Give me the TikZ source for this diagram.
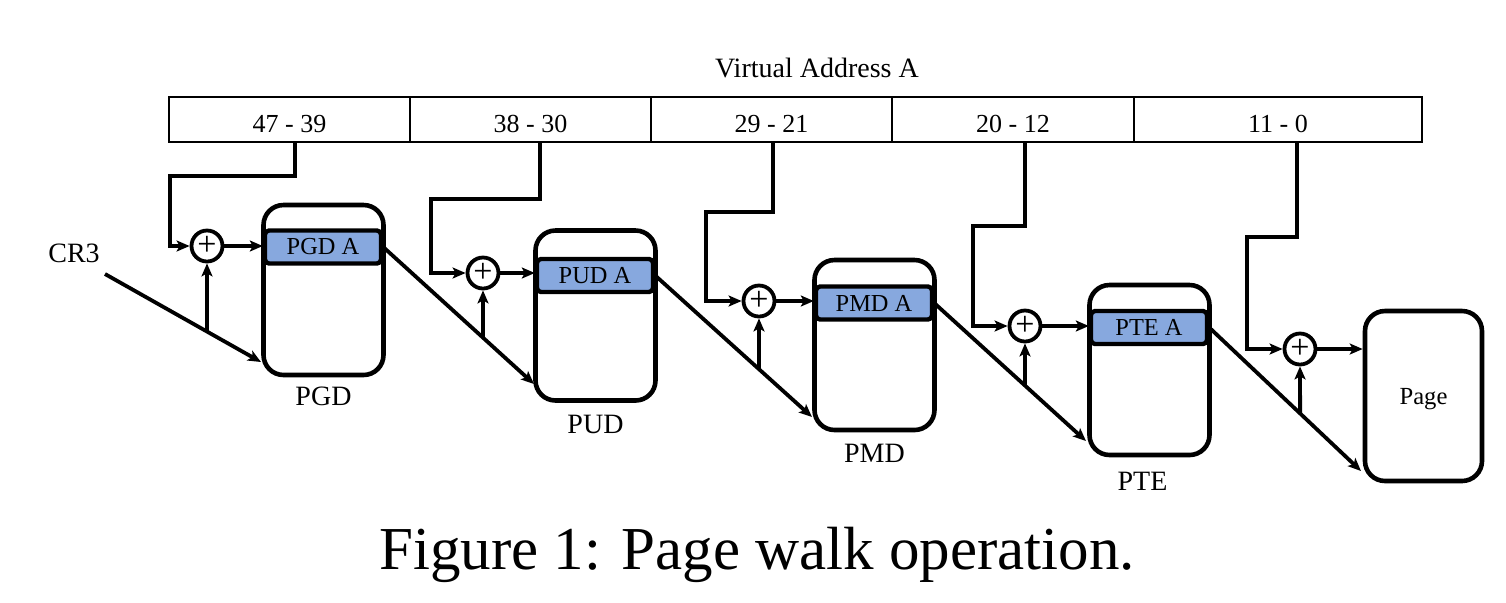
\documentclass[tikz,border=0pt]{standalone}
\usepackage{fontspec}
\setmainfont{Liberation Serif}
\usetikzlibrary{arrows.meta}
\definecolor{bandblue}{RGB}{135,168,222}
\begin{document}
\begin{tikzpicture}[x=0.5pt,y=-0.5pt,
  conn/.style={line width=1.9pt,-{Stealth[length=6.5pt,width=5.5pt,inset=1.5pt]}},
  cell/.style={draw,line width=1.1pt,minimum height=22.5pt,inner sep=0pt,text height=12.5pt,text depth=0pt,font=\fontsize{13}{15}\selectfont},
  table/.style={draw,line width=2.3pt,rounded corners=10pt,minimum width=60pt,minimum height=85pt,inner sep=0pt},
  band/.style={draw,line width=2.2pt,fill=bandblue,rounded corners=2pt,minimum width=58pt,minimum height=16.5pt,inner sep=0pt,font=\fontsize{12.2}{14}\selectfont},
  adder/.style={draw,circle,line width=1.9pt,minimum size=15.5pt,inner sep=0pt,font=\fontsize{17}{17}\selectfont},
  lbl/.style={font=\fontsize{14}{16}\selectfont,inner sep=0pt}
]
\useasboundingbox (0,0) rectangle (1506,602);

% address bar
\node[lbl,anchor=base] (va) at (817,77) {Virtual Address A};
\node[cell,minimum width=120.5pt] (b1) at (289.5,119.5) {47 - 39};
\node[cell,minimum width=120.5pt] (b2) at (530.5,119.5) {38 - 30};
\node[cell,minimum width=120.5pt] (b3) at (771.5,119.5) {29 - 21};
\node[cell,minimum width=121pt] (b4) at (1013,119.5) {20 - 12};
\node[cell,minimum width=144pt] (b5) at (1278,119.5) {11 - 0};

% tables
\node[table] (pgd) at (323.5,290) {};
\node[table] (pud) at (595.5,315.5) {};
\node[table] (pmd) at (874.5,345) {};
\node[table] (pte) at (1149.5,370) {};
\node[table,minimum width=58.5pt,font=\fontsize{12.3}{14}\selectfont,text depth=0pt] (page) at (1423.5,396) {Page};

\node[band] (pgdA) at (323,247) {PGD A};
\node[band] (pudA) at (595,275.5) {PUD A};
\node[band] (pmdA) at (874,303) {PMD A};
\node[band] (pteA) at (1149,327.5) {PTE A};

\node[lbl] (pgdl) at ([yshift=-9.5pt]pgd.south) {PGD};
\node[lbl] (pudl) at ([yshift=-11pt]pud.south) {PUD};
\node[lbl] (pmdl) at ([yshift=-10.5pt]pmd.south) {PMD};
\node[lbl] (ptel) at ([xshift=-3.5pt,yshift=-12pt]pte.south) {PTE};

% adders
\node[adder] (c1) at (207,246) {+};
\node[adder] (c2) at (483,273) {+};
\node[adder] (c3) at (759,301) {+};
\node[adder] (c4) at (1025,326) {+};
\node[adder] (c5) at (1300,349) {+};

% CR3
\node[lbl,anchor=base] (cr3) at (74,262) {CR3};
\coordinate (s0) at (105,274);

% arrow end points on the tables
\coordinate (a1) at (261,362);
\coordinate (a2) at (534,384);
\coordinate (a3) at (812,417);
\coordinate (a4) at (1086,441);
\coordinate (a5) at (1361,471);

% offsets from the address bar
\draw[conn] ([xshift=2.75pt]b1.south) |- (170,176) |- (c1.west);
\draw[conn] ([xshift=4.75pt]b2.south) |- (431,199) |- (c2.west);
\draw[conn] ([xshift=0.75pt]b3.south) |- (706,212) |- (c3.west);
\draw[conn] ([xshift=6pt]b4.south) |- (973,226) |- (c4.west);
\draw[conn] ([xshift=9.5pt]b5.south) |- (1247,237) |- (c5.west);

% adder to entry
\draw[conn] (c1.east) -- (c1.east -| pgdA.west);
\draw[conn] (c2.east) -- (c2.east -| pudA.west);
\draw[conn] (c3.east) -- (c3.east -| pmdA.west);
\draw[conn] (c4.east) -- (c4.east -| pteA.west);
\draw[conn] (c5.east) -- (c5.east -| page.west);

% base pointers
\draw[conn] (s0) -- (a1);
\draw[conn] (pgdA.east) -- (a2);
\draw[conn] (pudA.east) -- (a3);
\draw[conn] (pmdA.east) -- (a4);
\draw[conn] (pteA.east) -- (a5);

% branches up to adders
\draw[conn] (intersection of c1.center--c1.south and s0--a1) -- (c1.south);
\draw[conn] (intersection of c2.center--c2.south and pgdA.east--a2) -- (c2.south);
\draw[conn] (intersection of c3.center--c3.south and pudA.east--a3) -- (c3.south);
\draw[conn] (intersection of c4.center--c4.south and pmdA.east--a4) -- (c4.south);
\draw[conn] (intersection of c5.center--c5.south and pteA.east--a5) -- (c5.south);

% caption
\node[anchor=base,inner sep=0pt,font=\fontsize{30.5}{34}\selectfont] (cap) at (757,569) {Figure 1: Page walk operation.};
\end{tikzpicture}
\end{document}
